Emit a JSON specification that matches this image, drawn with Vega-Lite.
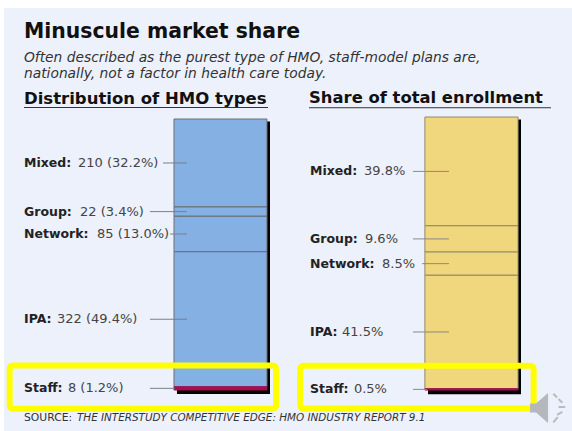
{"$schema":"https://vega.github.io/schema/vega-lite/v6.json","background":"#FFFFFF","padding":{"left":4,"top":8,"right":0,"bottom":0},"bounds":"flush","spacing":0,"resolve":{"scale":{"fill":"independent"}},"config":{"view":{"fill":"#EDF1FB","stroke":null}},"hconcat":[{"width":284,"height":423,"data":{"values":[{"type":"Mixed","hmos":210,"share":32.2,"order":1},{"type":"Group","hmos":22,"share":3.4,"order":2},{"type":"Network","hmos":85,"share":13.0,"order":3},{"type":"IPA","hmos":322,"share":49.4,"order":4},{"type":"Staff","hmos":8,"share":1.2,"order":5}]},"transform":[{"joinaggregate":[{"op":"sum","field":"share","as":"total"}]},{"calculate":"datum.share*100/datum.total","as":"norm"},{"stack":"norm","groupby":[],"sort":[{"field":"order"}],"as":["y0","y1"]},{"calculate":"(datum.y0+datum.y1)/2","as":"mid"},{"calculate":"datum.hmos+' ('+format(datum.share,'.1f')+'%)'","as":"valueText"},{"calculate":"{'Mixed':26.06,'Group':26.76,'Network':32.75,'IPA':18.66,'Staff':22.5}[datum.type]","as":"vx"},{"calculate":"{'Mixed':56,'Group':51.4,'Network':58.5,'IPA':51.4,'Staff':51.4}[datum.type]","as":"lx"},{"calculate":"datum.type=='Staff'?60.2:64.4","as":"lx2"},{"calculate":"datum.type+':'","as":"typeText"}],"layer":[{"data":{"values":[{"part":"shadow"}]},"mark":{"type":"rect","color":"#000000"},"encoding":{"x":{"datum":60.9,"type":"quantitative","axis":null,"scale":{"domain":[0,100],"nice":false,"zero":false}},"x2":{"datum":93.66},"y":{"datum":0.9,"type":"quantitative","axis":null,"scale":{"domain":[-40.96,115.13],"reverse":true,"nice":false,"zero":false}},"y2":{"datum":101.5}}},{"mark":{"type":"rect","strokeWidth":1},"encoding":{"x":{"datum":59.86,"type":"quantitative","axis":null,"scale":{"domain":[0,100],"nice":false,"zero":false}},"x2":{"datum":92.6},"y":{"field":"y0","type":"quantitative","axis":null,"scale":{"domain":[-40.96,115.13],"reverse":true,"nice":false,"zero":false}},"y2":{"field":"y1"},"fill":{"field":"type","type":"nominal","legend":null,"scale":{"domain":["Mixed","Group","Network","IPA","Staff"],"range":["#85B0E3","#85B0E3","#85B0E3","#85B0E3","#A50F50"]}},"stroke":{"condition":{"test":"datum.type=='Staff'","value":"#A50F50"},"value":"#6A6F78"}}},{"mark":{"type":"rule","color":"#7A7F88","strokeWidth":1},"encoding":{"x":{"field":"lx","type":"quantitative","axis":null,"scale":{"domain":[0,100],"nice":false,"zero":false}},"x2":{"field":"lx2"},"y":{"field":"mid","type":"quantitative","axis":null,"scale":{"domain":[-40.96,115.13],"reverse":true,"nice":false,"zero":false}}}},{"mark":{"type":"text","align":"left","baseline":"middle","font":"DejaVu Sans","fontWeight":"bold","fontSize":12.5,"color":"#222222"},"encoding":{"x":{"datum":7.04,"type":"quantitative","axis":null,"scale":{"domain":[0,100],"nice":false,"zero":false}},"y":{"field":"mid","type":"quantitative","axis":null,"scale":{"domain":[-40.96,115.13],"reverse":true,"nice":false,"zero":false}},"text":{"field":"typeText"}}},{"mark":{"type":"text","align":"left","baseline":"middle","font":"DejaVu Sans","fontSize":13,"color":"#444444"},"encoding":{"x":{"field":"vx","type":"quantitative","axis":null,"scale":{"domain":[0,100],"nice":false,"zero":false}},"y":{"field":"mid","type":"quantitative","axis":null,"scale":{"domain":[-40.96,115.13],"reverse":true,"nice":false,"zero":false}},"text":{"field":"valueText"}}},{"data":{"values":[{"t":"Distribution of HMO types"}]},"mark":{"type":"text","align":"left","baseline":"alphabetic","font":"DejaVu Sans","fontWeight":"bold","fontSize":16.5,"color":"#111111"},"encoding":{"x":{"datum":7.04,"type":"quantitative","axis":null,"scale":{"domain":[0,100],"nice":false,"zero":false}},"y":{"datum":-5.5,"type":"quantitative","axis":null,"scale":{"domain":[-40.96,115.13],"reverse":true,"nice":false,"zero":false}},"text":{"field":"t"}}},{"data":{"values":[{"p":"underline"}]},"mark":{"type":"rule","color":"#333333","strokeWidth":1},"encoding":{"x":{"datum":7.04,"type":"quantitative","axis":null,"scale":{"domain":[0,100],"nice":false,"zero":false}},"x2":{"datum":92.96},"y":{"datum":-4.24,"type":"quantitative","axis":null,"scale":{"domain":[-40.96,115.13],"reverse":true,"nice":false,"zero":false}}}},{"data":{"values":[{"p":"highlight"}]},"mark":{"type":"rect","fillOpacity":0,"stroke":"#FFFF00","strokeWidth":6,"cornerRadius":3},"encoding":{"x":{"datum":2,"type":"quantitative","axis":null,"scale":{"domain":[0,100],"nice":false,"zero":false}},"x2":{"datum":95.8},"y":{"datum":90.96,"type":"quantitative","axis":null,"scale":{"domain":[-40.96,115.13],"reverse":true,"nice":false,"zero":false}},"y2":{"datum":106.9}}}]},{"width":284,"height":423,"data":{"values":[{"type":"Mixed","share":39.8,"order":1},{"type":"Group","share":9.6,"order":2},{"type":"Network","share":8.5,"order":3},{"type":"IPA","share":41.5,"order":4},{"type":"Staff","share":0.5,"order":5}]},"transform":[{"joinaggregate":[{"op":"sum","field":"share","as":"total"}]},{"calculate":"datum.share*100/datum.total","as":"norm"},{"stack":"norm","groupby":[],"sort":[{"field":"order"}],"as":["y0","y1"]},{"calculate":"(datum.y0+datum.y1)/2","as":"mid"},{"calculate":"format(datum.share,'.1f')+'%'","as":"valueText"},{"calculate":"{'Mixed':26.76,'Group':27.1,'Network':33.1,'IPA':19,'Staff':23.2}[datum.type]","as":"vx"},{"calculate":"datum.type=='Network'?47.2:44","as":"lx"},{"calculate":"datum.type=='Staff'?48.9:56.7","as":"lx2"},{"calculate":"datum.type+':'","as":"typeText"}],"layer":[{"data":{"values":[{"part":"shadow"}]},"mark":{"type":"rect","color":"#000000"},"encoding":{"x":{"datum":49.3,"type":"quantitative","axis":null,"scale":{"domain":[0,100],"nice":false,"zero":false}},"x2":{"datum":82.04},"y":{"datum":0.9,"type":"quantitative","axis":null,"scale":{"domain":[-39.93,115],"reverse":true,"nice":false,"zero":false}},"y2":{"datum":101.5}}},{"mark":{"type":"rect","strokeWidth":1},"encoding":{"x":{"datum":48.2,"type":"quantitative","axis":null,"scale":{"domain":[0,100],"nice":false,"zero":false}},"x2":{"datum":81},"y":{"field":"y0","type":"quantitative","axis":null,"scale":{"domain":[-39.93,115],"reverse":true,"nice":false,"zero":false}},"y2":{"field":"y1"},"fill":{"field":"type","type":"nominal","legend":null,"scale":{"domain":["Mixed","Group","Network","IPA","Staff"],"range":["#F0D67D","#F0D67D","#F0D67D","#F0D67D","#A50F50"]}},"stroke":{"condition":{"test":"datum.type=='Staff'","value":"#A50F50"},"value":"#8F8B72"}}},{"mark":{"type":"rule","color":"#8A8A80","strokeWidth":1},"encoding":{"x":{"field":"lx","type":"quantitative","axis":null,"scale":{"domain":[0,100],"nice":false,"zero":false}},"x2":{"field":"lx2"},"y":{"field":"mid","type":"quantitative","axis":null,"scale":{"domain":[-39.93,115],"reverse":true,"nice":false,"zero":false}}}},{"mark":{"type":"text","align":"left","baseline":"middle","font":"DejaVu Sans","fontWeight":"bold","fontSize":12.5,"color":"#222222"},"encoding":{"x":{"datum":7.75,"type":"quantitative","axis":null,"scale":{"domain":[0,100],"nice":false,"zero":false}},"y":{"field":"mid","type":"quantitative","axis":null,"scale":{"domain":[-39.93,115],"reverse":true,"nice":false,"zero":false}},"text":{"field":"typeText"}}},{"mark":{"type":"text","align":"left","baseline":"middle","font":"DejaVu Sans","fontSize":13,"color":"#444444"},"encoding":{"x":{"field":"vx","type":"quantitative","axis":null,"scale":{"domain":[0,100],"nice":false,"zero":false}},"y":{"field":"mid","type":"quantitative","axis":null,"scale":{"domain":[-39.93,115],"reverse":true,"nice":false,"zero":false}},"text":{"field":"valueText"}}},{"data":{"values":[{"t":"Minuscule market share"}]},"mark":{"type":"text","align":"left","baseline":"alphabetic","font":"DejaVu Sans","fontWeight":"bold","fontSize":20.4,"color":"#111111"},"encoding":{"x":{"datum":-92.96,"type":"quantitative","axis":null,"scale":{"domain":[0,100],"nice":false,"zero":false}},"y":{"datum":-28.94,"type":"quantitative","axis":null,"scale":{"domain":[-39.93,115],"reverse":true,"nice":false,"zero":false}},"text":{"field":"t"}}},{"data":{"values":[{"t":"Often described as the purest type of HMO, staff-model plans are,"}]},"mark":{"type":"text","align":"left","baseline":"alphabetic","font":"DejaVu Sans","fontStyle":"italic","fontSize":13.8,"color":"#333333"},"encoding":{"x":{"datum":-92.96,"type":"quantitative","axis":null,"scale":{"domain":[0,100],"nice":false,"zero":false}},"y":{"datum":-20.15,"type":"quantitative","axis":null,"scale":{"domain":[-39.93,115],"reverse":true,"nice":false,"zero":false}},"text":{"field":"t"}}},{"data":{"values":[{"t":"nationally, not a factor in health care today."}]},"mark":{"type":"text","align":"left","baseline":"alphabetic","font":"DejaVu Sans","fontStyle":"italic","fontSize":13.8,"color":"#333333"},"encoding":{"x":{"datum":-92.96,"type":"quantitative","axis":null,"scale":{"domain":[0,100],"nice":false,"zero":false}},"y":{"datum":-14.29,"type":"quantitative","axis":null,"scale":{"domain":[-39.93,115],"reverse":true,"nice":false,"zero":false}},"text":{"field":"t"}}},{"data":{"values":[{"t":"Share of total enrollment"}]},"mark":{"type":"text","align":"left","baseline":"alphabetic","font":"DejaVu Sans","fontWeight":"bold","fontSize":16.4,"color":"#111111"},"encoding":{"x":{"datum":7.4,"type":"quantitative","axis":null,"scale":{"domain":[0,100],"nice":false,"zero":false}},"y":{"datum":-5,"type":"quantitative","axis":null,"scale":{"domain":[-39.93,115],"reverse":true,"nice":false,"zero":false}},"text":{"field":"t"}}},{"data":{"values":[{"p":"underline"}]},"mark":{"type":"rule","color":"#333333","strokeWidth":1},"encoding":{"x":{"datum":7.4,"type":"quantitative","axis":null,"scale":{"domain":[0,100],"nice":false,"zero":false}},"x2":{"datum":92.6},"y":{"datum":-3.4,"type":"quantitative","axis":null,"scale":{"domain":[-39.93,115],"reverse":true,"nice":false,"zero":false}}}},{"data":{"values":[{"p":"highlight"}]},"mark":{"type":"rect","fillOpacity":0,"stroke":"#FFFF00","strokeWidth":6,"cornerRadius":3},"encoding":{"x":{"datum":4.3,"type":"quantitative","axis":null,"scale":{"domain":[0,100],"nice":false,"zero":false}},"x2":{"datum":86.5},"y":{"datum":91.1,"type":"quantitative","axis":null,"scale":{"domain":[-39.93,115],"reverse":true,"nice":false,"zero":false}},"y2":{"datum":106.8}}},{"data":{"values":[{"t":"SOURCE:"}]},"mark":{"type":"text","align":"left","baseline":"alphabetic","font":"DejaVu Sans","fontSize":10.8,"color":"#333333"},"encoding":{"x":{"datum":-92.96,"type":"quantitative","axis":null,"scale":{"domain":[0,100],"nice":false,"zero":false}},"y":{"datum":111.25,"type":"quantitative","axis":null,"scale":{"domain":[-39.93,115],"reverse":true,"nice":false,"zero":false}},"text":{"field":"t"}}},{"data":{"values":[{"t":"THE INTERSTUDY COMPETITIVE EDGE: HMO INDUSTRY REPORT 9.1"}]},"mark":{"type":"text","align":"left","baseline":"alphabetic","font":"DejaVu Sans","fontStyle":"italic","fontSize":10.4,"color":"#333333"},"encoding":{"x":{"datum":-74.3,"type":"quantitative","axis":null,"scale":{"domain":[0,100],"nice":false,"zero":false}},"y":{"datum":111.25,"type":"quantitative","axis":null,"scale":{"domain":[-39.93,115],"reverse":true,"nice":false,"zero":false}},"text":{"field":"t"}}},{"data":{"values":[{"p":"speaker"}]},"mark":{"type":"point","filled":true,"color":"#B4B8BC","opacity":1,"size":900,"shape":"M -0.6 -0.3 L -0.2 -0.3 L 0.6 -1 L 0.6 1 L -0.2 0.3 L -0.6 0.3 Z"},"encoding":{"x":{"datum":88.4,"type":"quantitative","axis":null,"scale":{"domain":[0,100],"nice":false,"zero":false}},"y":{"datum":106.6,"type":"quantitative","axis":null,"scale":{"domain":[-39.93,115],"reverse":true,"nice":false,"zero":false}}}},{"data":{"values":[{"p":"speaker waves"}]},"mark":{"type":"point","filled":false,"color":"#B8BCC0","opacity":1,"strokeWidth":2,"size":900,"shape":"M 0.95 -0.95 L 1.2 -0.7 M 1.3 -0.6 L 1.55 -0.35 M 1.3 -0.07 L 1.75 -0.07 M 1.2 0.45 L 1.55 0.25 M 0.95 0.95 L 1.25 0.6"},"encoding":{"x":{"datum":88.4,"type":"quantitative","axis":null,"scale":{"domain":[0,100],"nice":false,"zero":false}},"y":{"datum":106.6,"type":"quantitative","axis":null,"scale":{"domain":[-39.93,115],"reverse":true,"nice":false,"zero":false}}}}]}]}
